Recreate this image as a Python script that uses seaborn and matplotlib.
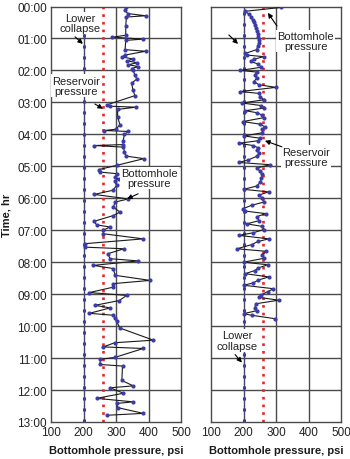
import matplotlib
matplotlib.use("Agg")
import matplotlib.pyplot as plt
import seaborn as sns
import pandas as pd

sns.set_theme(style="white")
plt.rcParams["font.family"] = ["Liberation Sans", "DejaVu Sans"]

# Well A: bottomhole pressure log (time in hours, pressure in psi)
time_a = [0.00, 0.12, 0.22, 0.29, 0.33, 0.60, 0.90, 0.96, 1.02, 1.06, 1.35, 1.40,
          1.52, 1.58, 1.64, 1.70, 1.76, 1.82, 1.88, 1.94, 2.00, 2.15, 2.27, 2.40,
          2.60, 2.79, 3.08, 3.12, 3.15, 3.22, 3.45, 3.70, 3.84, 3.88, 3.91, 4.00,
          4.20, 4.32, 4.35, 4.40, 4.55, 4.68, 4.76, 4.97, 5.10, 5.18, 5.23, 5.34,
          5.40, 5.46, 5.60, 5.75, 5.88, 6.02, 6.12, 6.28, 6.43, 6.54, 6.72, 6.83,
          6.90, 7.00, 7.11, 7.27, 7.42, 7.53, 7.58, 7.73, 7.89, 7.96, 8.10, 8.20,
          8.41, 8.57, 8.67, 8.78, 8.95, 9.04, 9.20, 9.35, 9.43, 9.60, 9.66, 9.75,
          9.85, 10.06, 10.44, 10.52, 10.65, 10.70, 10.98, 11.04, 11.20, 11.25,
          11.70, 11.87, 11.93, 12.10, 12.26, 12.37, 12.42, 12.55, 12.73, 12.79]
psi_a = [331, 328, 336, 391, 332, 330, 330, 289, 384, 330, 328, 391,
         328, 318, 352, 334, 366, 338, 368, 348, 353, 358, 364, 348,
         352, 358, 271, 282, 362, 305, 305, 312, 300, 264, 338, 326,
         322, 322, 233, 323, 326, 330, 386, 302, 248, 251, 302, 298,
         308, 296, 302, 290, 233, 338, 297, 292, 312, 292, 233, 240,
         281, 261, 261, 384, 205, 205, 325, 276, 281, 369, 230, 292,
         297, 405, 292, 292, 218, 333, 310, 235, 282, 218, 292, 297,
         302, 312, 415, 296, 261, 384, 296, 251, 251, 320,
         318, 353, 282, 323, 240, 353, 302, 305, 384, 271]

# Well B: bottomhole pressure log
time_b = [0.03, 0.15, 0.25, 0.33, 0.42, 0.50, 0.58, 0.67, 0.76, 0.85, 0.95, 1.05,
          1.15, 1.25, 1.35, 1.47, 1.52, 1.57, 1.65, 1.72, 1.80, 1.90, 2.00, 2.05,
          2.15, 2.25, 2.35, 2.45, 2.53, 2.66, 2.72, 2.82, 2.92, 3.02, 3.10, 3.18,
          3.26, 3.32, 3.40, 3.48, 3.60, 3.68, 3.76, 3.84, 3.95, 4.05, 4.12, 4.20,
          4.28, 4.35, 4.42, 4.50, 4.58, 4.68, 4.80, 4.88, 4.95, 5.05, 5.15, 5.25,
          5.38, 5.50, 5.62, 5.72, 5.80, 5.90, 6.00, 6.12, 6.22, 6.33, 6.40, 6.48,
          6.58, 6.70, 6.80, 6.88, 6.98, 7.08, 7.16, 7.27, 7.35, 7.45, 7.58, 7.66,
          7.76, 7.88, 8.00, 8.08, 8.18, 8.26, 8.36, 8.46, 8.56, 8.65, 8.72, 8.83,
          8.92, 9.02, 9.10, 9.19, 9.30, 9.42, 9.52, 9.61, 9.66, 9.77]
psi_b = [315, 205, 218, 224, 228, 232, 236, 238, 241, 244, 246, 248,
         247, 244, 240, 205, 212, 262, 232, 222, 245, 255, 190, 240,
         236, 240, 232, 248, 300, 190, 248, 252, 262, 196, 255, 262,
         205, 240, 258, 262, 198, 250, 265, 258, 258, 202, 250, 245,
         185, 230, 245, 240, 248, 242, 215, 185, 282, 242, 250, 258,
         255, 252, 240, 200, 277, 248, 258, 262, 225, 198, 205, 268,
         240, 248, 210, 258, 262, 230, 185, 278, 245, 225, 180, 270,
         258, 262, 200, 275, 245, 235, 205, 278, 245, 230, 200, 292,
         275, 255, 248, 308, 238, 235, 240, 200, 225, 298]

lower_collapse = 200
reservoir_pressure = 260
hour_ticks = list(range(0, 14))
hour_labels = [f"{h:02d}:00" for h in hour_ticks]
psi_ticks = [100, 200, 300, 400, 500]

fig = plt.figure(figsize=(3.5, 4.6), dpi=100)
ax_a = fig.add_axes([51 / 350, 37 / 460, 130 / 350, 415.5 / 460])
ax_b = fig.add_axes([211 / 350, 37 / 460, 130 / 350, 415.5 / 460])

grid_col = "#4a4a4a"
mark_col = "#3c3ca8"
red_col = "#e8262a"
fs = 8

for ax, t, p in ((ax_a, time_a, psi_a), (ax_b, time_b, psi_b)):
    ax.set_xlim(100, 500)
    ax.set_ylim(13, 0)
    ax.set_xticks(psi_ticks)
    ax.set_xticklabels([str(v) for v in psi_ticks], fontsize=fs + 0.5, color="#222222")
    ax.set_yticks(hour_ticks)
    for v in (200, 300, 400):
        ax.axvline(v, color=grid_col, lw=1.0, zorder=0)
    for h in hour_ticks[1:-1]:
        ax.axhline(h, color=grid_col, lw=1.0, zorder=0)
    for s in ax.spines.values():
        s.set_color(grid_col)
        s.set_linewidth(1.0)
    ax.tick_params(length=0, pad=3)

    # lower collapse and reservoir pressure reference lines
    ax.axvline(lower_collapse, color=mark_col, lw=0.5, alpha=0.4, zorder=1)
    ax.axvline(lower_collapse, color=mark_col, lw=2.2, ls=(0, (1.0, 2.6)), zorder=2)
    ax.axvline(reservoir_pressure, color=red_col, lw=1.9, ls=(0, (1.0, 1.9)), zorder=2)

    df = pd.DataFrame({"psi": p, "hours": t})
    sns.lineplot(data=df, x="psi", y="hours", sort=False, estimator=None, ax=ax,
                 color="#1a1a1a", lw=0.8, zorder=3)
    sns.scatterplot(data=df, x="psi", y="hours", ax=ax, color=mark_col, s=9,
                    linewidth=0, zorder=4)
    ax.set_xlabel("Bottomhole pressure, psi", fontsize=fs, fontweight="bold",
                  color="#1a1a1a", labelpad=5)
    ax.set_ylabel("")

ax_a.set_yticklabels(hour_labels, fontsize=fs + 0.5, color="#222222")
ax_b.set_yticklabels([])
ax_a.set_ylabel("Time, hr", fontsize=fs, fontweight="bold", color="#1a1a1a", labelpad=4)

arrow = dict(arrowstyle="-|>", color="black", lw=0.8, mutation_scale=7,
             shrinkA=0, shrinkB=0)
box = dict(boxstyle="square,pad=0.1", fc="white", ec="none")


def note(ax, text, tx, ty, hx, hy, ax_x, ax_y):
    ax.text(tx, ty, text, fontsize=fs, ha="center", va="center", linespacing=1.05,
            color="#222222", bbox=box, zorder=6)
    ax.annotate("", xy=(hx, hy), xytext=(ax_x, ax_y), arrowprops=arrow, zorder=7)


note(ax_a, "Lower\ncollapse", 189, 0.52, 198, 1.17, 174, 0.95)
note(ax_a, "Reservoir\npressure", 177, 2.48, 260, 3.20, 235, 3.05)
note(ax_a, "Bottomhole\npressure", 402, 5.36, 334, 6.02, 368, 5.86)

note(ax_b, "Bottomhole\npressure", 392, 1.08, 275, 0.20, 303, 0.61)
ax_b.annotate("", xy=(183, 1.17), xytext=(155, 0.89), arrowprops=arrow, zorder=7)
note(ax_b, "Reservoir\npressure", 392, 4.70, 266, 4.20, 318, 4.39)
note(ax_b, "Lower\ncollapse", 180, 10.45, 195, 11.14, 174, 10.89)

fig.savefig("out.png", dpi=100)
